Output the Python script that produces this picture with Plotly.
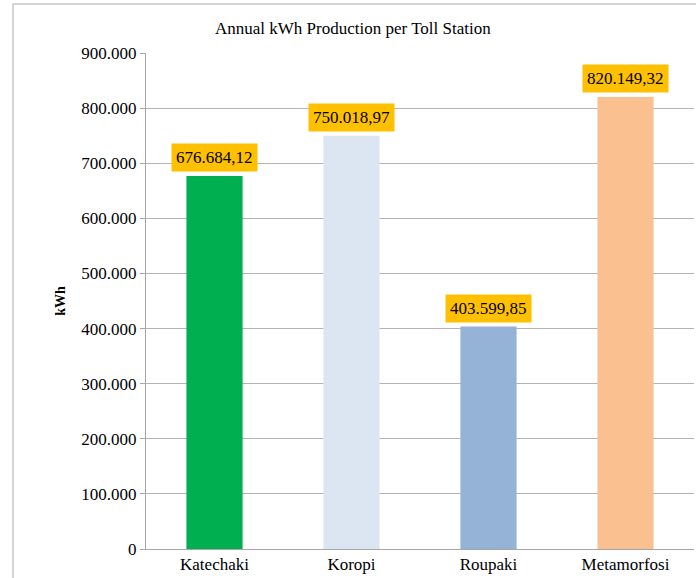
import plotly.graph_objects as go

categories = ["Katechaki", "Koropi", "Roupaki", "Metamorfosi"]
values = [676684.12, 750018.97, 403599.85, 820149.32]
colors = ["#00B050", "#DCE6F2", "#95B3D7", "#FAC090"]
tick_vals = [0, 100000, 200000, 300000, 400000, 500000, 600000, 700000, 800000, 900000]

def eu(v, dec):
    s = f"{v:,.{dec}f}"
    return s.replace(",", "X").replace(".", ",").replace("X", ".")

tick_text = [eu(v, 0) for v in tick_vals]
FONT = "'Liberation Serif', 'Times New Roman', serif"

fig = go.Figure()
fig.add_trace(go.Bar(x=categories, y=values, marker=dict(color=colors, line=dict(width=0)),
                     width=0.41, hoverinfo="skip"))

for c, v in zip(categories, values):
    fig.add_annotation(x=c, y=v, text=eu(v, 2), showarrow=False, yanchor="bottom", yshift=4,
                       bgcolor="#FFC000", borderpad=4,
                       font=dict(family=FONT, size=17, color="#000000"))

fig.add_shape(type="rect", xref="paper", yref="paper", x0=-0.2427, x1=1.2, y0=-0.3, y1=1.0988,
              line=dict(color="#C8C8C8", width=1.5), fillcolor="rgba(0,0,0,0)", layer="below")

fig.update_layout(
    width=696, height=578,
    margin=dict(l=146, r=2, t=53, b=29),
    paper_bgcolor="white", plot_bgcolor="white",
    showlegend=False,
    font=dict(family=FONT),
    title=dict(text="Annual kWh Production per Toll Station", x=0.507, xref="container",
               y=1 - 28 / 578, yanchor="middle",
               font=dict(family=FONT, size=17, color="#000000")),
    xaxis=dict(showline=True, linecolor="#A6A6A6", linewidth=1, ticks="",
               tickfont=dict(family=FONT, size=17, color="#000000"), range=[-0.5, 3.5]),
    yaxis=dict(range=[0, 900000], tickvals=tick_vals, ticktext=tick_text,
               showgrid=True, gridcolor="#B4B4B4", gridwidth=1,
               showline=True, linecolor="#A6A6A6", linewidth=1,
               ticks="outside", ticklen=5, tickcolor="#A6A6A6",
               tickfont=dict(family=FONT, size=17, color="#000000"),
               title=dict(text="<b>kWh</b>", standoff=12,
                          font=dict(family=FONT, size=14, color="#000000")),
               zeroline=False),
)

fig.write_html("out.html")
